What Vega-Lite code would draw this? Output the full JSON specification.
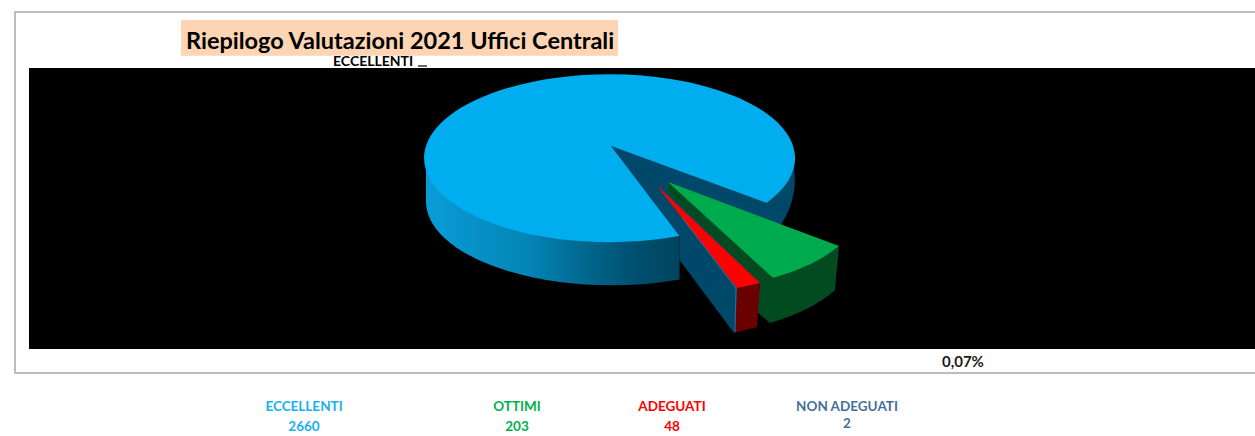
{
"$schema":"https://vega.github.io/schema/vega-lite/v6.json",
"autosize":"none",
"padding":{"left":29,"top":68,"right":0,"bottom":87},
"width":1226,"height":281,
"background":"white",
"view":{"fill":"#000000","stroke":null},
"title":{"text":"Riepilogo Valutazioni 2021 Uffici Centrali","anchor":"start","frame":"group","dx":157,"dy":63,"offset":0,"baseline":"alphabetic","font":"Lato","fontSize":23.5,"fontWeight":"bold","color":"#000000"},
"data":{"values":[
{"categoria":"ECCELLENTI","valutazioni":2660,"percentuale":"91,32%"},
{"categoria":"OTTIMI","valutazioni":203,"percentuale":"6,97%"},
{"categoria":"ADEGUATI","valutazioni":48,"percentuale":"1,65%"},
{"categoria":"NON ADEGUATI","valutazioni":2,"percentuale":"0,07%"}
]},
"layer":[
{"transform":[{"filter":"datum.categoria==='ECCELLENTI'"}],"mark":{"type":"point","filled":false,"opacity":1,"size":4,"stroke":"#a8a8a8","strokeWidth":1.5,"shape":"M-627,-196.5L640,-196.5L640,164.5L-627,164.5Z"}},
{"transform":[{"filter":"datum.categoria==='ECCELLENTI'"}],"mark":{"type":"point","filled":true,"opacity":1,"size":4,"fill":"#fdd5b4","shape":"M-461,-188.5L-24,-188.5L-24,-152.8L-461,-152.8Z"}},
{"transform":[{"filter":"datum.categoria==='ECCELLENTI'"}],"mark":{"type":"point","filled":true,"opacity":1,"size":4,"fill":"#00486a","shape":"M-31,-62.5L124.5,-5.5A185.5,84,0,0,0,153,-50.5L152,-40A90,84,0,0,1,140,14.5L118,74.5L92,124.5L37.5,51.5L37.5,27.5Z"}},
{"transform":[{"filter":"datum.categoria==='ECCELLENTI'"}],"mark":{"type":"point","filled":true,"opacity":1,"size":4,"fill":{"x1":0,"y1":0,"x2":1,"y2":0,"gradient":"linear","stops":[{"offset":0,"color":"#0a9cd8"},{"offset":0.4,"color":"#0385b5"},{"offset":0.8,"color":"#005172"},{"offset":1,"color":"#00455f"}]},"shape":"M-216,-50.5A185.5,84,0,0,0,37.5,27.5L37.5,71A185.5,84,0,0,1,-216,-7Z"}},
{"transform":[{"filter":"datum.categoria==='ECCELLENTI'"}],"mark":{"type":"point","filled":true,"opacity":1,"size":4,"fill":"#00aeef","shape":"M-31,-62.5L124.5,-5.5A185.5,84,0,1,0,37.5,27.5Z"}},
{"transform":[{"filter":"datum.categoria==='OTTIMI'"}],"mark":{"type":"point","filled":true,"opacity":1,"size":4,"fill":"#024a20","shape":"M26,-26.5L131,69.5A185.5,84,0,0,0,197,37.5L193,81.5A185.5,84,0,0,1,128,114.5L115,103.5L118,74.5L26,-15.5Z"}},
{"transform":[{"filter":"datum.categoria==='OTTIMI'"}],"mark":{"type":"point","filled":true,"opacity":1,"size":4,"fill":"#00ab4e","shape":"M26,-26.5L197,37.5A185.5,84,0,0,1,131,69.5Z"}},
{"transform":[{"filter":"datum.categoria==='ADEGUATI'"}],"mark":{"type":"point","filled":true,"opacity":1,"size":4,"fill":"#6a0000","shape":"M95,79.5L118,74.5L115,118.5L93,124Z"}},
{"transform":[{"filter":"datum.categoria==='ADEGUATI'"}],"mark":{"type":"point","filled":true,"opacity":1,"size":4,"fill":"#ff0000","shape":"M14,-24L118,74.5L95,79.5Z"}},
{"transform":[{"filter":"datum.categoria==='NON ADEGUATI'"}],"mark":{"type":"point","filled":false,"opacity":1,"size":4,"stroke":"#3d7aa8","strokeWidth":0.8,"shape":"M40,9L94,79.5L93,124"}},
{"transform":[{"filter":"datum.categoria==='ECCELLENTI'"}],"mark":{"type":"point","filled":false,"opacity":1,"size":4,"stroke":"#000000","strokeWidth":1.2,"shape":"M-224,-142.5L-215,-142.5"}},
{"transform":[{"filter":"datum.categoria==='ECCELLENTI'"}],"mark":{"type":"text","align":"left","dx":-309,"dy":-147,"font":"Lato","fontSize":14,"fontWeight":"bold","color":"#000000"},"encoding":{"text":{"field":"categoria"}}},
{"transform":[{"filter":"datum.categoria==='NON ADEGUATI'"}],"mark":{"type":"text","align":"left","dx":300,"dy":153,"font":"Lato","fontSize":15,"fontWeight":"bold","color":"#1a1a1a"},"encoding":{"text":{"field":"percentuale"}}},
{"mark":{"type":"text","font":"Lato","fontSize":13.5,"fontWeight":"bold","y":338.5},"encoding":{
"x":{"field":"valutazioni","type":"quantitative","axis":null,"scale":{"domain":[2,48,203,2660],"range":[818,643,488,275],"nice":false,"zero":false}},
"color":{"field":"categoria","type":"nominal","legend":null,"scale":{"domain":["ECCELLENTI","OTTIMI","ADEGUATI","NON ADEGUATI"],"range":["#17b0ef","#00b050","#ff0000","#44709c"]}},
"text":{"field":"categoria"}}},
{"transform":[{"filter":"datum.categoria!=='NON ADEGUATI'"}],"mark":{"type":"text","font":"Lato","fontSize":13.5,"fontWeight":"bold","y":359},"encoding":{
"x":{"field":"valutazioni","type":"quantitative","axis":null},
"color":{"field":"categoria","type":"nominal","legend":null},
"text":{"field":"valutazioni","type":"quantitative"}}},
{"transform":[{"filter":"datum.categoria==='NON ADEGUATI'"}],"mark":{"type":"text","font":"Lato","fontSize":13.5,"fontWeight":"bold","y":356},"encoding":{
"x":{"field":"valutazioni","type":"quantitative","axis":null},
"color":{"field":"categoria","type":"nominal","legend":null},
"text":{"field":"valutazioni","type":"quantitative"}}}
]
}
